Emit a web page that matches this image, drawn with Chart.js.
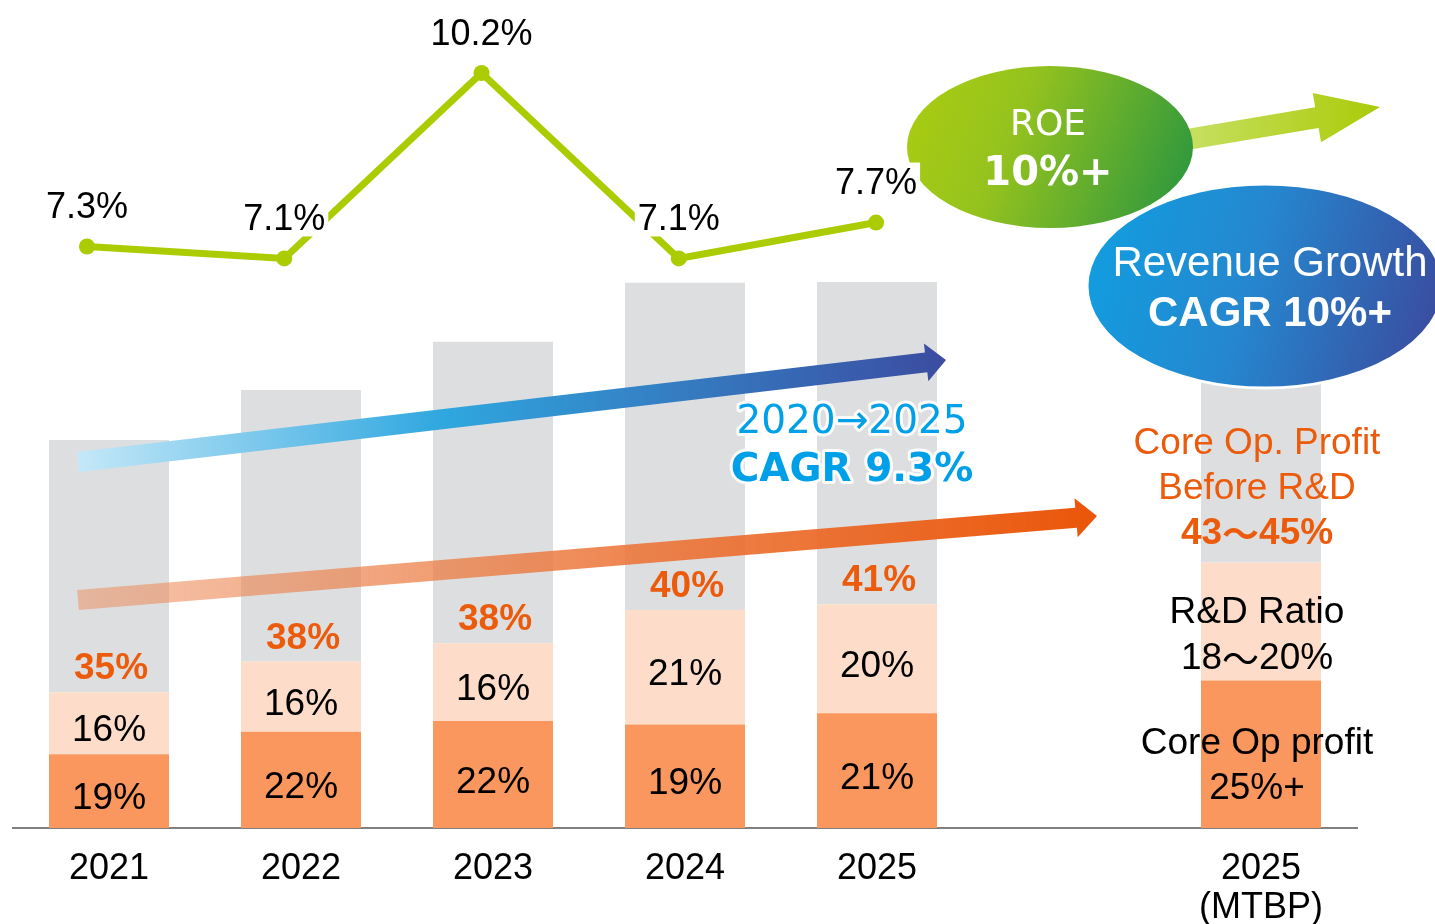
<!DOCTYPE html>
<html>
<head>
<meta charset="utf-8">
<script src="https://cdn.jsdelivr.net/npm/chart.js@4/dist/chart.umd.min.js"></script>
<style>
	html, body { margin: 0; padding: 0; background: #fff; }
	canvas { display: block; }
</style>
</head>
<body>
<canvas id="chart" width="1435" height="924"></canvas>
<script>
// #region Data
const years = [`2021`, `2022`, `2023`, `2024`, `2025`, ``, [`2025`, `(MTBP)`]];
// revenue, 2021 = 100
const revenueIndex = [100, 112.9, 125.3, 140.5, 140.7, null, 152];
const coreOpPct = [19, 22, 22, 19, 21, null, 25];
const rdPct = [16, 16, 16, 21, 20, null, 20];

const roeYears = [2021, 2022, 2023, 2024, 2025];
const roe = [7.3, 7.1, 10.2, 7.1, 7.7];

const mtbpCoreText = [`Core Op profit`, `25%+`];
const mtbpRdText = [`R&D Ratio`, [`18`, `～`, `20%`]];
const mtbpBeforeRdText = [`Core Op. Profit`, `Before R&D`, [`43`, `～`, `45%`]];
const cagrText = [`2020→2025`, `CAGR 9.3%`];
const roeTargetText = [`ROE`, `10%+`];
const revenueTargetText = [`Revenue Growth`, `CAGR 10%+`];
// #endregion

const SANS = `'Liberation Sans', Arial, sans-serif`;
const VERDANA = `'DejaVu Sans', Verdana, sans-serif`;
const CJK = `'Noto Sans CJK JP', sans-serif`;
const ORANGE_TEXT = `#EC5B0C`;

const coreVals = revenueIndex.map((r, i) => r == null ? null : r * coreOpPct[i] / 100);
const rdVals = revenueIndex.map((r, i) => r == null ? null : r * rdPct[i] / 100);
const restVals = revenueIndex.map((r, i) => r == null ? null : r - coreVals[i] - rdVals[i]);

function drawArrow(ctx, x0, y0, x1, y1, shaft, headW, headL, fill) {
	const len = Math.hypot(x1 - x0, y1 - y0);
	const ux = (x1 - x0) / len, uy = (y1 - y0) / len;
	const nx = -uy, ny = ux;
	const bx = x1 - ux * headL, by = y1 - uy * headL;
	ctx.save();
	ctx.fillStyle = fill;
	ctx.beginPath();
	ctx.moveTo(x0 + nx * shaft / 2, y0 + ny * shaft / 2);
	ctx.lineTo(bx + nx * shaft / 2, by + ny * shaft / 2);
	ctx.lineTo(bx + nx * headW / 2, by + ny * headW / 2);
	ctx.lineTo(x1, y1);
	ctx.lineTo(bx - nx * headW / 2, by - ny * headW / 2);
	ctx.lineTo(bx - nx * shaft / 2, by - ny * shaft / 2);
	ctx.lineTo(x0 - nx * shaft / 2, y0 - ny * shaft / 2);
	ctx.closePath();
	ctx.fill();
	ctx.restore();
};

// text that may be split in parts, the wave dash set in a CJK font
function drawLine(ctx, line, x, y, weight, size) {
	if (!Array.isArray(line)) {
		ctx.font = `${weight} ${size}px ${SANS}`;
		ctx.fillText(line, x, y);
		return;
	};
	const fonts = line.map((t) => t === `～` ? `${weight} ${size}px ${CJK}` : `${weight} ${size}px ${SANS}`);
	const widths = line.map((t, k) => {
		ctx.font = fonts[k];
		return ctx.measureText(t).width;
	});
	let cx = x - widths.reduce((a, b) => a + b, 0) / 2;
	const align = ctx.textAlign;
	ctx.textAlign = `left`;
	line.forEach((t, k) => {
		ctx.font = fonts[k];
		ctx.fillText(t, cx, y);
		cx += widths[k];
	});
	ctx.textAlign = align;
};

function drawTrendArrows(chart) {
	const ctx = chart.ctx;

	let g = ctx.createLinearGradient(78, 0, 1100, 0);
	g.addColorStop(0, `rgba(236, 140, 90, 0.5)`);
	g.addColorStop(0.5, `rgba(236, 118, 58, 0.85)`);
	g.addColorStop(1, `rgba(234, 85, 8, 1)`);
	drawArrow(ctx, 78, 600, 1097, 516, 20, 39, 21, g);

	g = ctx.createLinearGradient(78, 0, 946, 0);
	g.addColorStop(0, `#C4E8F8`);
	g.addColorStop(0.42, `#2FA7DF`);
	g.addColorStop(1, `#3B4CA0`);
	drawArrow(ctx, 78, 462, 946, 360, 20, 38, 20, g);
};

function drawDecor(chart) {
	const ctx = chart.ctx;
	const xs = chart.scales.x;
	const core = chart.getDatasetMeta(1).data;
	const rd = chart.getDatasetMeta(2).data;

	ctx.save();
	ctx.textAlign = `center`;
	ctx.textBaseline = `middle`;

	// percentages inside the yearly bars
	for (let i = 0; i < 5; i++) {
		const c = core[i], r = rd[i];
		ctx.fillStyle = `#000`;
		ctx.font = `37px ${SANS}`;
		ctx.fillText(`${coreOpPct[i]}%`, c.x, (c.y + c.base) / 2 + 8);
		ctx.fillText(`${rdPct[i]}%`, r.x, (r.y + r.base) / 2 + 8);
		ctx.fillStyle = ORANGE_TEXT;
		ctx.font = `bold 37px ${SANS}`;
		ctx.fillText(`${coreOpPct[i] + rdPct[i]}%`, r.x + 2, r.y - 23);
	};

	// MTBP bar texts
	const mx = xs.getPixelForValue(6) - 4;
	const mc = core[6], mr = rd[6];
	ctx.fillStyle = `#000`;
	mtbpCoreText.forEach((t, k) => drawLine(ctx, t, mx, (mc.y + mc.base) / 2 - 10 + k * 45, ``, 37));
	mtbpRdText.forEach((t, k) => drawLine(ctx, t, mx, (mr.y + mr.base) / 2 - 9 + k * 46, ``, 37));
	ctx.fillStyle = ORANGE_TEXT;
	drawLine(ctx, mtbpBeforeRdText[0], mx, mr.y - 119, ``, 37);
	drawLine(ctx, mtbpBeforeRdText[1], mx, mr.y - 74, ``, 37);
	drawLine(ctx, mtbpBeforeRdText[2], mx, mr.y - 29, `bold`, 37);

	// CAGR note
	ctx.lineJoin = `round`;
	ctx.strokeStyle = `rgba(255,255,255,0.9)`;
	ctx.lineWidth = 6;
	ctx.fillStyle = `#00A0E9`;
	ctx.font = `39px ${VERDANA}`;
	ctx.strokeText(cagrText[0], 852, 423);
	ctx.fillText(cagrText[0], 852, 423);
	ctx.font = `bold 39px ${VERDANA}`;
	ctx.strokeText(cagrText[1], 852, 471);
	ctx.fillText(cagrText[1], 852, 471);

	// green arrow behind the ROE ellipse
	let g = ctx.createLinearGradient(1190, 0, 1380, 0);
	g.addColorStop(0, `#C7DF60`);
	g.addColorStop(1, `#A9CB08`);
	drawArrow(ctx, 1160, 144, 1380, 107, 21, 50, 64, g);

	// ROE ellipse
	g = ctx.createLinearGradient(915, 95, 1190, 205);
	g.addColorStop(0, `#A9CC12`);
	g.addColorStop(0.35, `#94C21E`);
	g.addColorStop(1, `#2A963F`);
	ctx.fillStyle = g;
	ctx.beginPath();
	ctx.ellipse(1050, 147, 143, 81, 0, 0, Math.PI * 2);
	ctx.fill();
	ctx.fillStyle = `#fff`;
	ctx.font = `36px ${VERDANA}`;
	ctx.fillText(roeTargetText[0], 1048, 126);
	ctx.font = `bold 40px ${VERDANA}`;
	ctx.fillText(roeTargetText[1], 1048, 175);

	// revenue growth ellipse
	g = ctx.createLinearGradient(1090, 240, 1440, 335);
	g.addColorStop(0, `#129DE0`);
	g.addColorStop(0.45, `#2587CF`);
	g.addColorStop(1, `#3B4B9E`);
	ctx.fillStyle = g;
	ctx.strokeStyle = `#fff`;
	ctx.lineWidth = 3;
	ctx.beginPath();
	ctx.ellipse(1265, 286, 178, 102, 0, 0, Math.PI * 2);
	ctx.fill();
	ctx.stroke();
	ctx.fillStyle = `#fff`;
	ctx.font = `42px ${SANS}`;
	ctx.fillText(revenueTargetText[0], 1270, 264);
	ctx.font = `bold 42px ${SANS}`;
	ctx.fillText(revenueTargetText[1], 1270, 314);

	// ROE labels with white boxes over the line
	ctx.font = `36px ${SANS}`;
	const pts = chart.getDatasetMeta(0).data;
	pts.forEach((p, i) => {
		const t = `${roe[i].toFixed(1)}%`;
		const w = ctx.measureText(t).width;
		const ly = p.y - 41;
		ctx.fillStyle = `#fff`;
		ctx.fillRect(p.x - w / 2 - 3, ly - 19, w + 6, 38);
		ctx.fillStyle = `#000`;
		ctx.fillText(t, p.x, ly + 3);
	});

	ctx.restore();
};

const decorPlugin = {
	id: `decor`,
	beforeDatasetDraw(chart, args) {
		if (args.index === 0) {
			drawTrendArrows(chart);
		};
	},
	afterDatasetsDraw(chart) {
		drawDecor(chart);
	},
};

const barCommon = {
	type: `bar`,
	xAxisID: `x`,
	yAxisID: `y`,
	stack: `rev`,
	grouped: false,
	categoryPercentage: 0.625,
	barPercentage: 1,
	borderWidth: 0,
};

new Chart(document.getElementById(`chart`), {
	type: `bar`,
	data: {
		labels: years,
		datasets: [
			{
				type: `line`,
				label: `ROE`,
				data: roeYears.map((y, i) => ({ x: y, y: roe[i] })),
				xAxisID: `xl`,
				yAxisID: `y2`,
				borderColor: `#AACC00`,
				backgroundColor: `#AACC00`,
				borderWidth: 7,
				pointRadius: 8,
				pointBorderWidth: 0,
				pointBackgroundColor: `#AACC00`,
				tension: 0,
			},
			{ ...barCommon, label: `Core Op profit`, data: coreVals, backgroundColor: `#F9975F` },
			{ ...barCommon, label: `R&D`, data: rdVals, backgroundColor: `#FDDCC9` },
			{ ...barCommon, label: `Other`, data: restVals, backgroundColor: `#DDDEE0` },
		],
	},
	options: {
		responsive: false,
		devicePixelRatio: 1,
		animation: false,
		layout: {
			autoPadding: false,
			padding: { left: 13, right: 78, top: 0, bottom: 0 },
		},
		plugins: {
			legend: { display: false },
			tooltip: { enabled: false },
		},
		scales: {
			x: {
				type: `category`,
				stacked: true,
				offset: true,
				grid: { display: false, drawTicks: false, offset: true },
				border: { display: true, color: `#808080`, width: 2 },
				ticks: {
					color: `#000`,
					font: { family: SANS, size: 36, lineHeight: 1.1 },
					padding: 21,
					maxRotation: 0,
					autoSkip: false,
				},
				afterFit(scale) {
					scale.height = 96;
				},
			},
			xl: {
				type: `linear`,
				display: false,
				offset: false,
				grid: { offset: false },
				min: 2020.625,
				max: 2027.438,
			},
			y: {
				type: `linear`,
				stacked: true,
				display: false,
				min: 0,
				max: 213.4,
			},
			y2: {
				type: `linear`,
				display: false,
				min: -2.42,
				max: 11.42,
			},
		},
	},
	plugins: [decorPlugin],
});
</script>
</body>
</html>
